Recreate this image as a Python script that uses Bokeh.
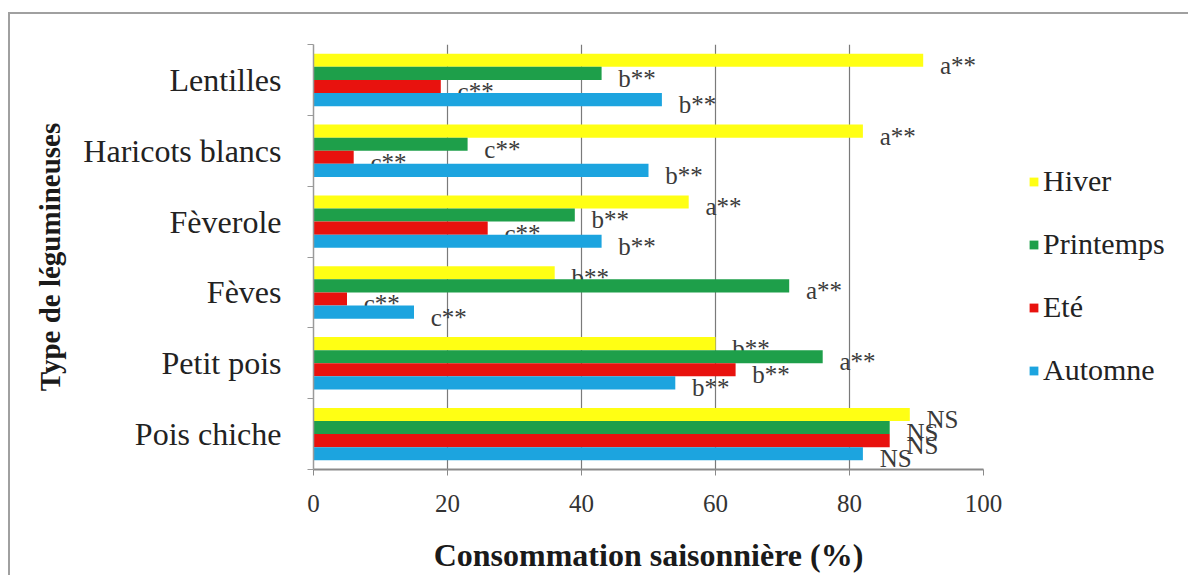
from bokeh.plotting import figure
from bokeh.models import FixedTicker, Legend, LegendItem, Range1d
from bokeh.embed import file_html
from bokeh.resources import INLINE
from bokeh.core.properties import value

categories = ["Pois chiche", "Petit pois", "Fèves", "Fèverole", "Haricots blancs", "Lentilles"]
series = ["Hiver", "Printemps", "Eté", "Automne"]
hiver = [89, 60, 36, 56, 82, 91]
printemps = [86, 76, 71, 39, 23, 43]
ete = [86, 63, 5, 26, 6, 19]
automne = [82, 54, 15, 43, 50, 52]
lab_hiver = ["NS", "b**", "b**", "a**", "a**", "a**"]
lab_printemps = ["NS", "a**", "a**", "b**", "c**", "b**"]
lab_ete = ["NS", "b**", "c**", "c**", "c**", "c**"]
lab_automne = ["NS", "b**", "c**", "b**", "b**", "b**"]
colors = ["#FFFF14", "#1E9F4A", "#E8120E", "#1CA4DF"]
x_ticks = [0, 20, 40, 60, 80, 100]

SERIF = "Liberation Serif"
values = [hiver, printemps, ete, automne]
labels = [lab_hiver, lab_printemps, lab_ete, lab_automne]

p = figure(frame_width=670, frame_height=425, output_backend="svg", toolbar_location=None,
           x_range=Range1d(0, 100), y_range=Range1d(0, len(categories)),
           min_border_left=303, min_border_right=10, min_border_top=30, min_border_bottom=106)
p.outline_line_color = None
p.background_fill_color = "white"
p.border_fill_color = "white"
p.margin = (12, 0, 0, 8)
p.styles = {"border-top": "2px solid #a0a0a0", "border-left": "2px solid #a0a0a0"}

bar_h = 0.185
offsets = [1.5, 0.5, -0.5, -1.5]
renderers = []
for k in range(4):
    ys = [i + 0.5 + offsets[k] * bar_h for i in range(len(categories))]
    r = p.hbar(y=ys, left=0, right=values[k], height=bar_h, fill_color=colors[k], line_color=None)
    renderers.append(r)
    p.text(x=[v + 2.5 for v in values[k]], y=[y - 0.07 for y in ys], text=labels[k],
           text_baseline="middle", text_align="left", text_font=value(SERIF),
           text_font_size="25px", text_color="#3a3a3a")

# axes
p.xaxis.ticker = FixedTicker(ticks=x_ticks)
p.xgrid.ticker = FixedTicker(ticks=x_ticks)
p.xgrid.grid_line_color = "#7a7a7a"
p.xgrid.grid_line_width = 1.2
p.ygrid.grid_line_color = None

xa = p.xaxis[0]
xa.axis_line_color = "#8a8a8a"
xa.axis_line_width = 2
xa.major_tick_line_color = "#8a8a8a"
xa.major_tick_out = 6
xa.major_tick_in = 0
xa.minor_tick_line_color = None
xa.major_label_text_font = SERIF
xa.major_label_text_font_size = "25px"
xa.major_label_text_color = "#333333"
xa.major_label_standoff = 19
xa.axis_label = "Consommation saisonnière (%)"
xa.axis_label_text_font = SERIF
xa.axis_label_text_font_style = "bold"
xa.axis_label_text_font_size = "32px"
xa.axis_label_text_color = "#1a1a1a"
xa.axis_label_standoff = 22

ya = p.yaxis[0]
ya.ticker = FixedTicker(ticks=[i + 0.5 for i in range(len(categories))],
                        minor_ticks=list(range(len(categories) + 1)))
ya.major_label_overrides = {i + 0.5: c for i, c in enumerate(categories)}
ya.axis_line_color = "#9a9a9a"
ya.axis_line_width = 1.5
ya.major_tick_line_color = None
ya.major_tick_out = 0
ya.major_tick_in = 0
ya.minor_tick_line_color = "#9a9a9a"
ya.minor_tick_out = 6
ya.minor_tick_in = 0
ya.major_label_text_font = SERIF
ya.major_label_text_font_size = "32px"
ya.major_label_text_color = "#222222"
ya.major_label_standoff = 26
ya.axis_label = "Type de légumineuses"
ya.axis_label_text_font = SERIF
ya.axis_label_text_font_style = "bold"
ya.axis_label_text_font_size = "29px"
ya.axis_label_text_color = "#1a1a1a"
ya.axis_label_standoff = 14

legend = Legend(items=[LegendItem(label=series[k], renderers=[renderers[k]]) for k in range(4)],
                location=(45, 82), orientation="vertical")
legend.glyph_width = 11
legend.glyph_height = 11
legend.label_height = 30
legend.spacing = 29
legend.padding = 0
legend.margin = 0
legend.label_standoff = 4
legend.border_line_color = None
legend.background_fill_alpha = 0
legend.label_text_font = SERIF
legend.label_text_font_size = "30px"
legend.label_text_color = "#222222"
p.add_layout(legend, "right")

open("out.html", "w").write(file_html(p, INLINE))
